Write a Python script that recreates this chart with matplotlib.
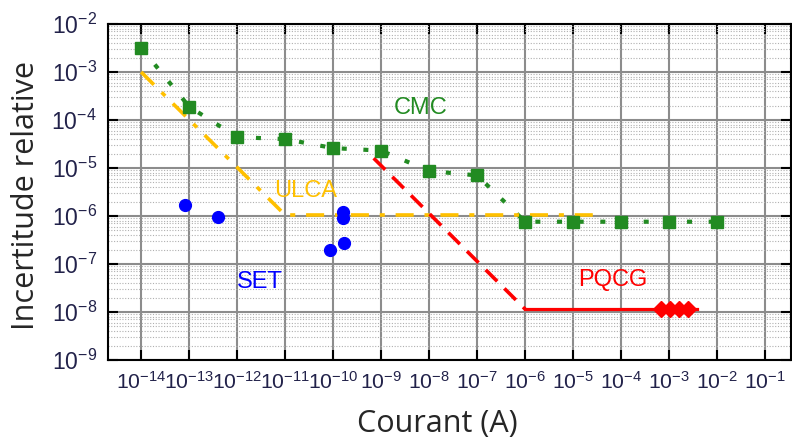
import matplotlib.pyplot as plt
import numpy as np

# CMC (green squares)
cmc_x = [1e-14, 1e-13, 1e-12, 1e-11, 1e-10, 1e-9, 1e-8, 1e-7, 1e-6, 1e-5, 1e-4, 1e-3, 1e-2]
cmc_y = [3.2e-3, 1.9e-4, 4.4e-5, 4.0e-5, 2.6e-5, 2.3e-5, 8.7e-6, 7.0e-6, 7.6e-7, 7.6e-7, 7.6e-7, 7.6e-7, 7.6e-7]

# ULCA (orange dash-dot)
ulca_x = [1e-14, 1e-11, 3.5e-5]
ulca_y = [1e-3, 1.05e-6, 1.05e-6]

# PQCG (red)
pqcg_dash_x = [7e-10, 1e-6]
pqcg_dash_y = [1.6e-5, 1.15e-8]
pqcg_line_x = [1e-6, 3.8e-3]
pqcg_line_y = [1.15e-8, 1.15e-8]
pqcg_pts_x = [6.8e-4, 1.05e-3, 1.6e-3, 2.5e-3]
pqcg_pts_y = [1.15e-8, 1.15e-8, 1.15e-8, 1.15e-8]

# SET (blue points)
set_x = [8.3e-14, 4e-13, 1.6e-10, 1.6e-10, 8.7e-11, 1.65e-10]
set_y = [1.7e-6, 9.5e-7, 1.2e-6, 9e-7, 2.0e-7, 2.7e-7]

xticks = [10.0**e for e in range(-14, 0)]
yticks = [10.0**e for e in range(-9, -1)]

green = '#228B22'
orange = '#FFC000'
red = '#FF0000'
blue = '#0000FF'

fig = plt.figure(figsize=(7.92, 4.44), dpi=100)
ax = fig.add_axes([108/792, 1-360/444, 683/792, 336/444])
ax.set_xscale('log')
ax.set_yscale('log')
ax.set_xlim(10**-14.69, 10**-0.46)
ax.set_ylim(1e-9, 1e-2)

# grid
ax.set_xticks(xticks)
ax.set_yticks(yticks)
ax.xaxis.set_minor_locator(plt.NullLocator())
ax.grid(True, which='major', color='#8c8c8c', lw=1.5, zorder=0)
ax.yaxis.grid(True, which='minor', color='#b0b0b0', lw=0.8, ls=(0, (1, 1.5)), zorder=0)
ax.set_axisbelow(True)

ax.plot(cmc_x, cmc_y, color=green, lw=3, ls=(0, (1.2, 4)), zorder=3)
ax.plot(cmc_x, cmc_y, 's', color=green, ms=8.5, ls='none', zorder=4)

ax.plot(ulca_x, ulca_y, color=orange, lw=2.6, ls=(0, (5, 3, 1.4, 3)), zorder=3)

ax.plot(pqcg_dash_x, pqcg_dash_y, color=red, lw=2.6, ls=(0, (4.5, 2.8)), zorder=3)
ax.plot(pqcg_line_x, pqcg_line_y, color=red, lw=2.3, zorder=3)
ax.plot(pqcg_pts_x, pqcg_pts_y, 'D', color=red, ms=8, ls='none', zorder=4)

ax.plot(set_x, set_y, 'o', color=blue, ms=8.5, ls='none', zorder=4)

txt = dict(fontsize=17, family='Liberation Sans', ha='center', va='center')
ax.text(10**-8.17, 10**-3.75, 'CMC', color=green, **txt)
ax.text(10**-10.58, 10**-5.48, 'ULCA', color=orange, **txt)
ax.text(10**-11.52, 10**-7.37, 'SET', color=blue, **txt)
ax.text(10**-4.17, 10**-7.33, 'PQCG', color=red, **txt)

ax.set_xticklabels([r'$\mathregular{10^{%d}}$' % e for e in range(-14, 0)])
ax.set_yticklabels([r'$\mathregular{10^{%d}}$' % e for e in range(-9, -1)])
for t in ax.get_xticklabels():
    t.set_fontsize(15.2)
for t in ax.get_yticklabels():
    t.set_fontsize(16.5)
for t in ax.get_xticklabels() + ax.get_yticklabels():
    t.set_family('Liberation Sans')
    t.set_color('#22224a')

ax.tick_params(which='major', direction='in', length=7, width=1.5, color='black',
               top=True, right=True, pad=8)
ax.tick_params(which='minor', length=0)
for s in ax.spines.values():
    s.set_linewidth(1.5)
    s.set_color('black')

ax.set_xlabel('Courant (A)', fontsize=22, family='Open Sans', color='#262626', va='center')
ax.set_ylabel('Incertitude relative', fontsize=22, family='Open Sans', color='#262626', va='center')
ax.xaxis.set_label_coords(0.482, -0.19)
ax.yaxis.set_label_coords(-0.12, 0.49)

fig.savefig('out.png', dpi=100)
